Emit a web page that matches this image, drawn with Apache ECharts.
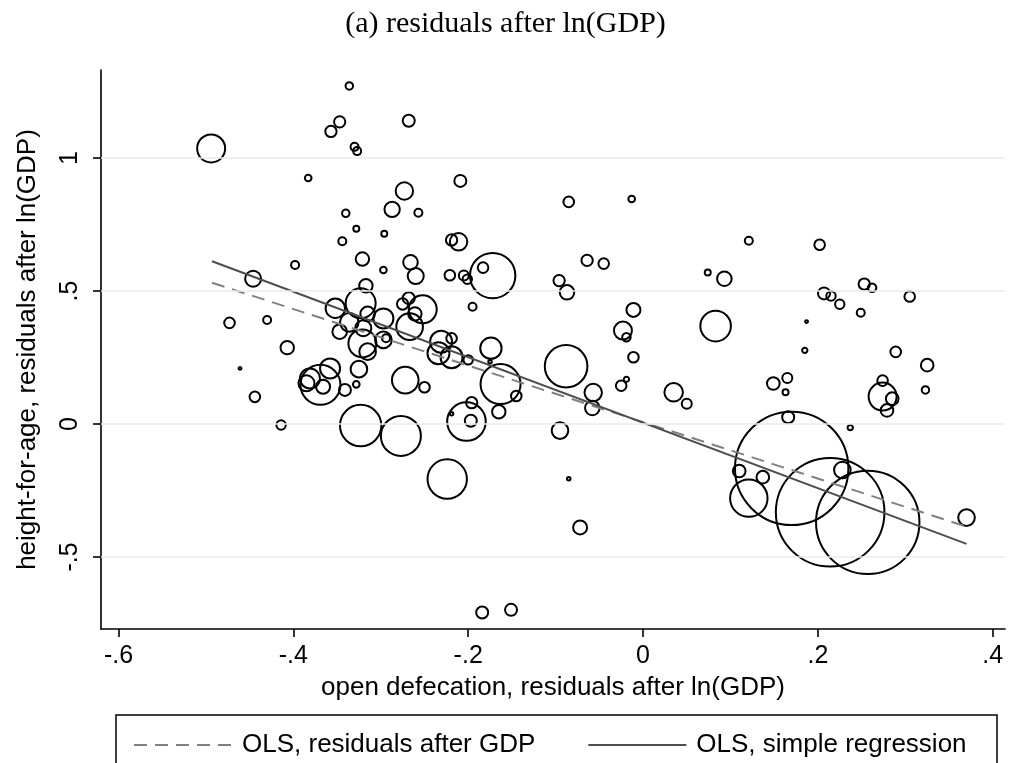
<!DOCTYPE html>
<html>
<head>
<meta charset="utf-8">
<script src="https://cdn.jsdelivr.net/npm/echarts@6/dist/echarts.min.js"></script>
<style>
  html, body { margin: 0; padding: 0; background: #fff; }
  #chart { width: 1011px; height: 763px; }
</style>
</head>
<body>
<div id="chart"></div>
<script>
// Open defecation residuals (x), height-for-age residuals (y), population weight
const defX = [
  -0.494,-0.336,-0.347,-0.357,-0.330,-0.327,-0.383,-0.268,-0.273,-0.209,
  -0.287,-0.257,-0.340,-0.328,-0.296,-0.344,-0.211,-0.219,-0.085,-0.013,
  0.121,0.202,-0.321,-0.398,-0.297,-0.446,-0.317,-0.266,-0.260,-0.221,
  -0.205,-0.201,-0.172,-0.183,-0.064,-0.045,-0.096,-0.087,0.074,0.093,
  0.253,0.262,0.207,0.215,0.225,0.305,0.249,-0.323,-0.352,-0.315,
  -0.297,-0.268,-0.275,-0.252,-0.261,-0.267,-0.336,-0.347,-0.321,-0.315,
  -0.297,-0.294,-0.407,-0.325,-0.328,-0.341,-0.272,-0.250,-0.358,-0.381,
  -0.385,-0.366,-0.369,-0.320,-0.231,-0.219,-0.234,-0.219,-0.200,-0.174,
  -0.175,-0.163,-0.145,-0.165,-0.196,-0.202,-0.197,-0.219,-0.277,-0.224,
  -0.323,-0.473,-0.430,-0.461,-0.444,-0.414,-0.195,-0.011,-0.023,-0.019,
  -0.011,-0.019,-0.025,0.035,0.050,-0.088,-0.057,-0.058,-0.095,-0.085,
  -0.072,-0.184,-0.151,0.083,0.187,0.185,0.289,0.325,0.323,0.149,
  0.165,0.163,0.274,0.274,0.285,0.279,0.166,0.237,0.170,0.110,
  0.137,0.121,0.228,0.214,0.257,0.370
];
const hfaY = [
  1.036,1.271,1.136,1.100,1.042,1.026,0.925,1.140,0.876,0.914,
  0.807,0.794,0.792,0.734,0.715,0.687,0.685,0.692,0.835,0.846,
  0.689,0.674,0.620,0.598,0.579,0.546,0.520,0.608,0.556,0.559,
  0.558,0.544,0.558,0.588,0.615,0.603,0.539,0.495,0.570,0.546,
  0.526,0.512,0.491,0.481,0.450,0.479,0.418,0.454,0.435,0.414,
  0.397,0.473,0.451,0.431,0.414,0.366,0.382,0.347,0.303,0.272,
  0.316,0.322,0.287,0.206,0.149,0.128,0.165,0.138,0.209,0.171,
  0.153,0.140,0.147,0.360,0.309,0.322,0.266,0.251,0.241,0.285,
  0.234,0.150,0.105,0.046,0.080,0.009,0.012,0.038,-0.045,-0.207,
  -0.006,0.380,0.391,0.209,0.102,-0.004,0.441,0.429,0.351,0.326,
  0.251,0.168,0.144,0.119,0.076,0.217,0.118,0.060,-0.025,-0.206,
  -0.389,-0.709,-0.699,0.368,0.385,0.277,0.271,0.221,0.128,0.152,
  0.173,0.119,0.163,0.103,0.095,0.051,0.025,-0.014,-0.167,-0.177,
  -0.200,-0.279,-0.173,-0.332,-0.370,-0.352
];
const popW = [
  196,14,32,32,16,16,11,36,76,36,
  59,16,14,9,9,16,76,32,28,11,
  16,28,45,16,11,64,45,53,64,28,
  25,22,515,28,32,28,32,53,9,53,
  32,18,36,22,22,28,16,225,94,53,
  100,36,32,196,45,177,86,53,196,69,
  69,16,45,69,11,36,177,28,100,100,
  64,49,400,64,121,28,121,121,22,114,
  3,400,28,45,32,372,36,3,400,388,
  428,28,16,2,28,22,16,49,81,18,
  28,7,28,86,25,454,76,53,69,3,
  49,36,36,234,2,7,28,40,14,40,
  25,9,28,196,40,40,36,7,3215,40,
  40,350,69,2948,2673,69
];
// Fitted regression lines (endpoints at min and max of x)
const fitX = [-0.493, 0.370];
const fitResidY = [0.531, -0.386];
const fitSimpleY = [0.612, -0.451];
// Tick labels
const xTicks = [-0.6, -0.4, -0.2, 0, 0.2, 0.4];
const yTicks = [-0.5, 0, 0.5, 1];

const fmt = v => {
  const r = Math.round(v * 10) / 10;
  if (r === 0) return '0';
  const s = Math.abs(r).toString().replace(/^0/, '');
  return (r < 0 ? '-' : '') + s;
};

const points = defX.map((x, i) => [x, hfaY[i], popW[i]]);

const chart = echarts.init(document.getElementById('chart'), null, { renderer: 'canvas' });
const FONT = 'Liberation Sans';
chart.setOption({
  animation: false,
  backgroundColor: '#ffffff',
  title: {
    text: '(a) residuals after ln(GDP)',
    left: 'center',
    top: 4,
    textStyle: { fontFamily: 'Liberation Serif', fontWeight: 'normal', fontSize: 30, color: '#000' }
  },
  grid: { left: 101, right: 6, top: 70, bottom: 134 },
  xAxis: {
    type: 'value',
    min: -0.62, max: 0.414,
    name: 'open defecation, residuals after ln(GDP)',
    nameLocation: 'middle',
    nameGap: 46,
    nameTextStyle: { fontFamily: FONT, fontSize: 26, color: '#000' },
    axisLine: { show: true, onZero: false, lineStyle: { color: '#000', width: 1.6 } },
    axisTick: { show: true, length: 8, customValues: xTicks, lineStyle: { color: '#000', width: 1.6 } },
    axisLabel: { customValues: xTicks, formatter: fmt, margin: 15, fontFamily: FONT, fontSize: 25, color: '#000' },
    splitLine: { show: false }
  },
  yAxis: {
    type: 'value',
    min: -0.771, max: 1.331,
    name: 'height-for-age, residuals after ln(GDP)',
    nameLocation: 'middle',
    nameGap: 60,
    nameTextStyle: { fontFamily: FONT, fontSize: 26, color: '#000' },
    axisLine: { show: true, onZero: false, lineStyle: { color: '#000', width: 1.6 } },
    axisTick: { show: true, length: 8, customValues: yTicks, lineStyle: { color: '#000', width: 1.6 } },
    axisLabel: { customValues: yTicks, formatter: fmt, rotate: 90, margin: 18, fontFamily: FONT, fontSize: 25, color: '#000' },
    splitLine: { show: false }
  },
  legend: {
    left: 128, top: 727,
    itemWidth: 98, itemHeight: 14,
    itemGap: 52,
    itemStyle: { opacity: 0 },
    textStyle: { fontFamily: FONT, fontSize: 26, color: '#000', padding: [0, 0, 0, 5] },
    data: ['OLS, residuals after GDP', 'OLS, simple regression']
  },
  graphic: [{
    type: 'rect',
    shape: { x: 116, y: 715, width: 881, height: 70 },
    style: { fill: 'none', stroke: '#000', lineWidth: 1.5 },
    silent: true
  }],
  series: [
    {
      type: 'line',
      name: 'grid',
      data: [],
      silent: true,
      z: 1,
      markLine: {
        silent: true,
        symbol: 'none',
        label: { show: false },
        lineStyle: { type: 'solid', color: '#e4edf0', width: 1.6 },
        data: yTicks.map(v => ({ yAxis: v }))
      }
    },
    {
      type: 'scatter',
      name: 'countries',
      data: points,
      symbol: 'circle',
      symbolSize: v => 2 * Math.sqrt(v[2]),
      itemStyle: { color: 'rgba(0,0,0,0)', borderColor: '#000', borderWidth: 2, opacity: 1 },
      z: 3,
      silent: true
    },
    {
      type: 'line',
      name: 'OLS, residuals after GDP',
      data: fitX.map((x, i) => [x, fitResidY[i]]),
      symbol: 'none',
      lineStyle: { color: '#808080', width: 2, type: [13, 8] },
      itemStyle: { color: '#808080' },
      z: 4,
      silent: true
    },
    {
      type: 'line',
      name: 'OLS, simple regression',
      data: fitX.map((x, i) => [x, fitSimpleY[i]]),
      symbol: 'none',
      lineStyle: { color: '#4d4d4d', width: 2 },
      itemStyle: { color: '#4d4d4d' },
      z: 4,
      silent: true
    }
  ]
});
</script>
</body>
</html>
